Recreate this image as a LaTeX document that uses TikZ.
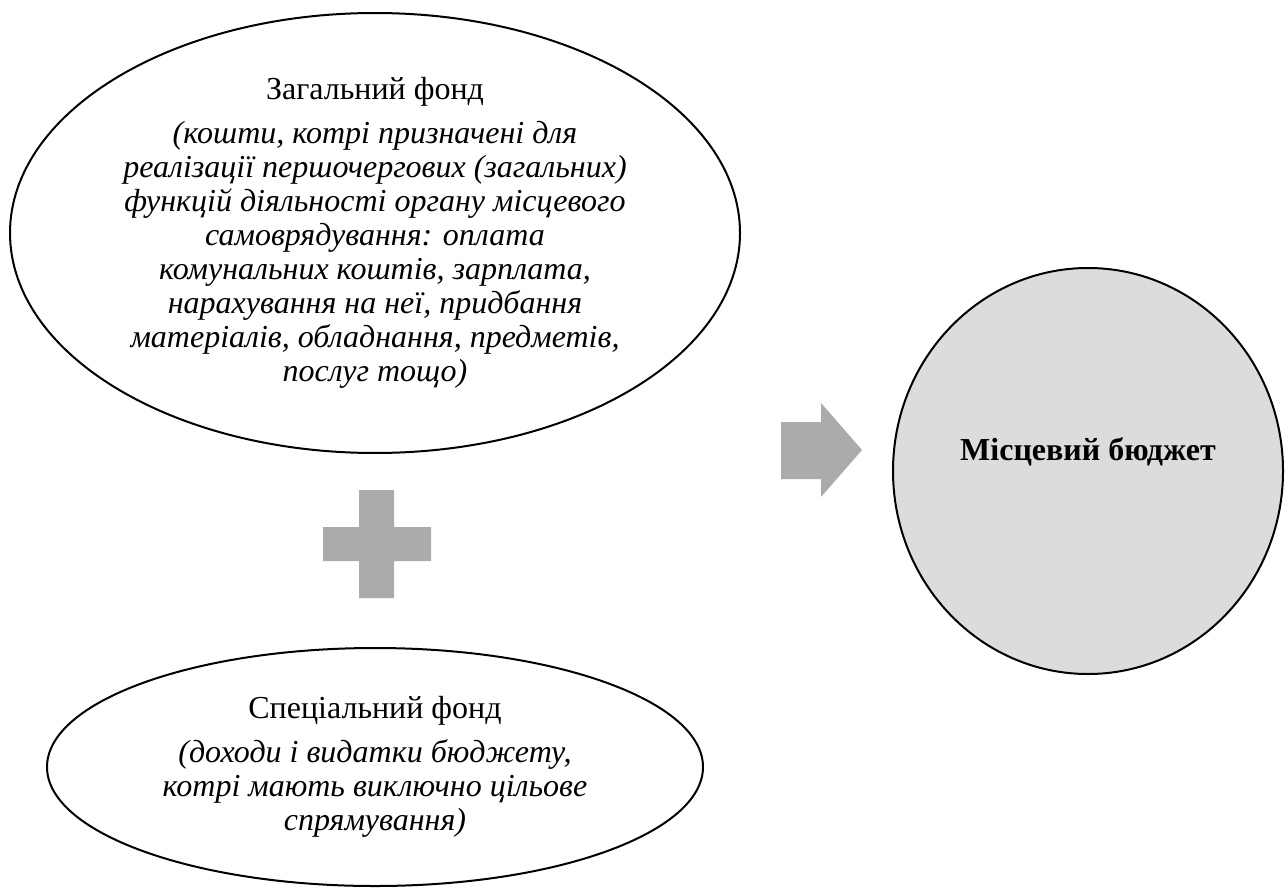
\documentclass[tikz,border=0pt]{standalone}
\usepackage{fontspec}
\setmainfont{Liberation Serif}
\usetikzlibrary{shapes.geometric,positioning}
\definecolor{pgray}{HTML}{ABABAB}
\definecolor{plight}{HTML}{DCDCDC}
\begin{document}
\begin{tikzpicture}[x=0.5pt,y=-0.5pt,
    every node/.style={font=\fontsize{16}{17}\selectfont,align=center},
    fund/.style={draw,ellipse,line width=1pt,inner sep=0pt}]
  \useasboundingbox (0,0) rectangle (1288,888);
  % funds
  \node[fund,minimum width=365pt,minimum height=218pt] (zf) at (375,233) {Загальний фонд\\[5pt]
    \textit{(кошти, котрі призначені для}\\
    \textit{реалізації першочергових (загальних)}\\
    \textit{функцій діяльності органу місцевого}\\
    \textit{самоврядування: оплата}\\
    \textit{комунальних коштів, зарплата,}\\
    \textit{нарахування на неї, придбання}\\
    \textit{матеріалів, обладнання, предметів,}\\
    \textit{послуг тощо)}};
  \node[fund,minimum width=328pt,minimum height=119pt] (sf) at (375,767) {Спеціальний фонд\\[5pt]
    \textit{(доходи і видатки бюджету,}\\
    \textit{котрі мають виключно цільове}\\
    \textit{спрямування)}};
  % budget
  \node[fund,fill=plight,minimum width=195pt,minimum height=203pt] (mb) at (1088,471) {};
  \node[font=\fontsize{16}{17}\selectfont\bfseries] (mbtxt) at (1088,452) {Місцевий бюджет};
  % plus and arrow
  \fill[pgray] (359,490) -- (394,490) -- (394,527) -- (431,527) -- (431,561) -- (394,561)
    -- (394,598) -- (359,598) -- (359,561) -- (323,561) -- (323,527) -- (359,527) -- cycle;
  \fill[pgray] (781,422) -- (821,422) -- (821,403) -- (862,450) -- (821,497) -- (821,479)
    -- (781,479) -- cycle;
\end{tikzpicture}
\end{document}
